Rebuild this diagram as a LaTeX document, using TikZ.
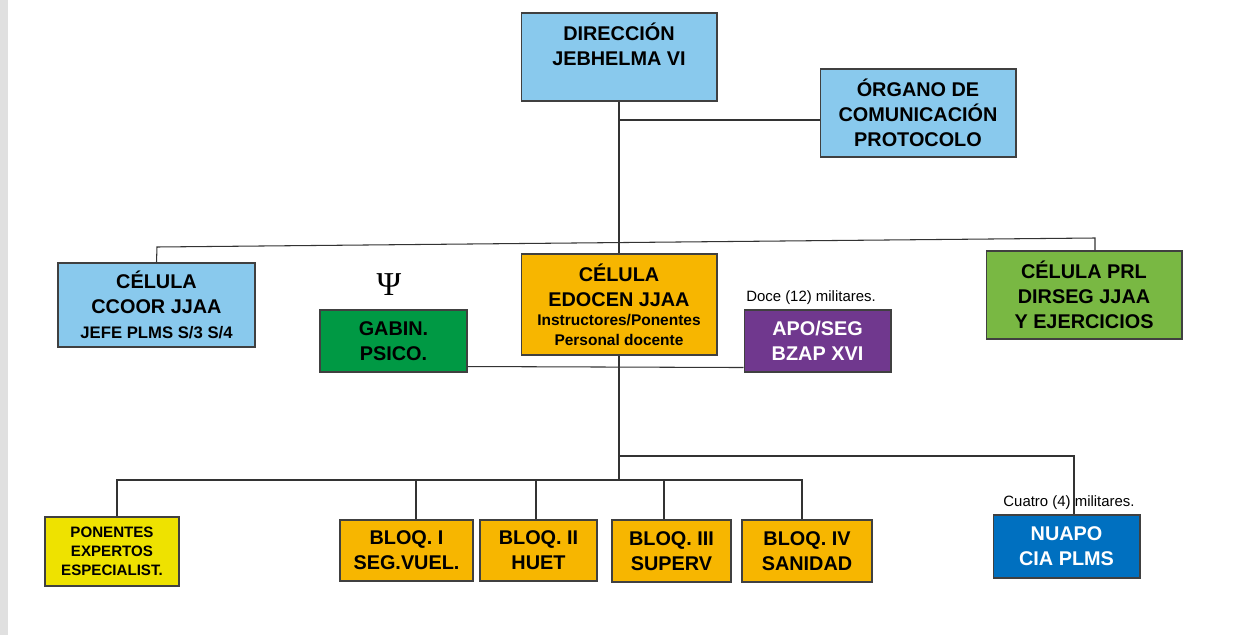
\documentclass[tikz,border=0pt]{standalone}
\usepackage{fontspec}
\setmainfont{Liberation Sans}
\newfontfamily\greekserif{Liberation Serif}
\usetikzlibrary{positioning}

\definecolor{celeste}{RGB}{137,201,237}
\definecolor{naranja}{RGB}{247,182,0}
\definecolor{verdeprl}{RGB}{121,184,67}
\definecolor{verdeosc}{RGB}{0,153,68}
\definecolor{morado}{RGB}{112,56,142}
\definecolor{azulnu}{RGB}{0,112,192}
\definecolor{amarillo}{RGB}{238,226,0}

\newcommand\bigtxt{\fontsize{11.3}{14.2}\selectfont\bfseries}
\newcommand\smalltxt{\fontsize{8.8}{9.6}\selectfont\bfseries}
\newcommand\notetxt{\fontsize{8.5}{10}\selectfont}

\begin{document}
\begin{tikzpicture}[x=0.02cm, y=-0.02cm,
        box/.style={draw=black!75, line width=0.6pt, align=center, inner sep=0pt, font=\bigtxt},
        link/.style={draw=black!80, line width=0.6pt}]

    \useasboundingbox (0,0) rectangle (1236,635);
    \fill[white] (0,0) rectangle (1236,635);
    \fill[black!12] (0,0) rectangle (8,635);

    % Direccion and organo
    \node[box, fill=celeste, minimum width=3.92cm, minimum height=1.76cm] (dir) at (619,57) {DIRECCIÓN\\JEBHELMA VI\\~};
    \node[box, fill=celeste, minimum width=3.92cm, minimum height=1.76cm] (organo) at (918,113) {ÓRGANO DE\\COMUNICACIÓN\\PROTOCOLO};

    % Celulas
    \node[box, fill=celeste, minimum width=3.94cm, minimum height=1.68cm] (ccoor) at (156.5,305) {CÉLULA\\CCOOR JJAA\\{\fontsize{9.5}{11}\selectfont\bfseries JEFE PLMS S/3 S/4}};
    \node[box, fill=naranja, minimum width=3.92cm, minimum height=2.02cm] (edocen) at (619,304.5) {CÉLULA\\EDOCEN JJAA\\[-3pt]{\smalltxt Instructores/Ponentes}\\[-3pt]{\smalltxt Personal docente}};
    \node[box, fill=verdeprl, minimum width=3.92cm, minimum height=1.76cm] (prl) at (1084,295) {CÉLULA PRL\\DIRSEG JJAA\\Y EJERCICIOS};

    % Gabinete and apoyo
    \node (psi) at (389,285) {\greekserif\fontsize{19}{19}\selectfont Ψ};
    \node[box, fill=verdeosc, minimum width=2.94cm, minimum height=1.24cm] (gabin) at (393.5,341) {GABIN.\\PSICO.};
    \node[box, fill=morado, text=white, minimum width=2.94cm, minimum height=1.24cm] (apo) at (817.5,341) {APO/SEG\\BZAP XVI};
    \node[font=\notetxt] (doce) at (811,298) {Doce (12) militares.};

    % Bloques
    \node[box, fill=amarillo, minimum width=2.68cm, minimum height=1.38cm, font=\fontsize{8.6}{10.8}\selectfont\bfseries] (pon) at (112,551.5) {PONENTES\\EXPERTOS\\ESPECIALIST.};
    \node[box, fill=naranja, minimum width=2.66cm, minimum height=1.22cm] (b1) at (406.5,550.5) {BLOQ. I\\SEG.VUEL.};
    \node[box, fill=naranja, minimum width=2.34cm, minimum height=1.22cm] (b2) at (538.5,550.5) {BLOQ. II\\HUET};
    \node[box, fill=naranja, minimum width=2.38cm, minimum height=1.24cm] (b3) at (671.5,551) {BLOQ. III\\SUPERV};
    \node[box, fill=naranja, minimum width=2.6cm, minimum height=1.24cm] (b4) at (807,551) {BLOQ. IV\\SANIDAD};
    \node[box, fill=azulnu, text=white, minimum width=2.94cm, minimum height=1.26cm] (nuapo) at (1066.5,546.5) {NUAPO\\CIA PLMS};
    \node[font=\notetxt] (cuatro) at (1069,503) {Cuatro (4) militares.};

    % Upper links
    \coordinate (jorg) at (619,120);
    \coordinate (busl) at (157,247);
    \coordinate (busr) at (1095,238);
    \draw[link] (dir.south) -- (edocen.north);
    \draw[link] (jorg) -- (jorg -| organo.west);
    \draw[link] (ccoor.north) -- (busl) -- (busr) -- (busr |- prl.north);
    \draw[link] ([yshift=0.12cm]gabin.south east) -- ([yshift=0.1cm]apo.south west);

    % Lower links
    \coordinate (jnu) at (619,456);
    \coordinate (jbl) at (619,480);
    \draw[link] (edocen.south) -- (jbl);
    \draw[link] (jnu) -| ([xshift=0.15cm]nuapo.north);
    \foreach \n/\dx in {pon/5,b1/9.5,b2/-2.5,b3/-7.5,b4/-5}
        \draw[link] ([xshift=\dx*0.02cm]\n.north) |- (jbl);
\end{tikzpicture}
\end{document}
